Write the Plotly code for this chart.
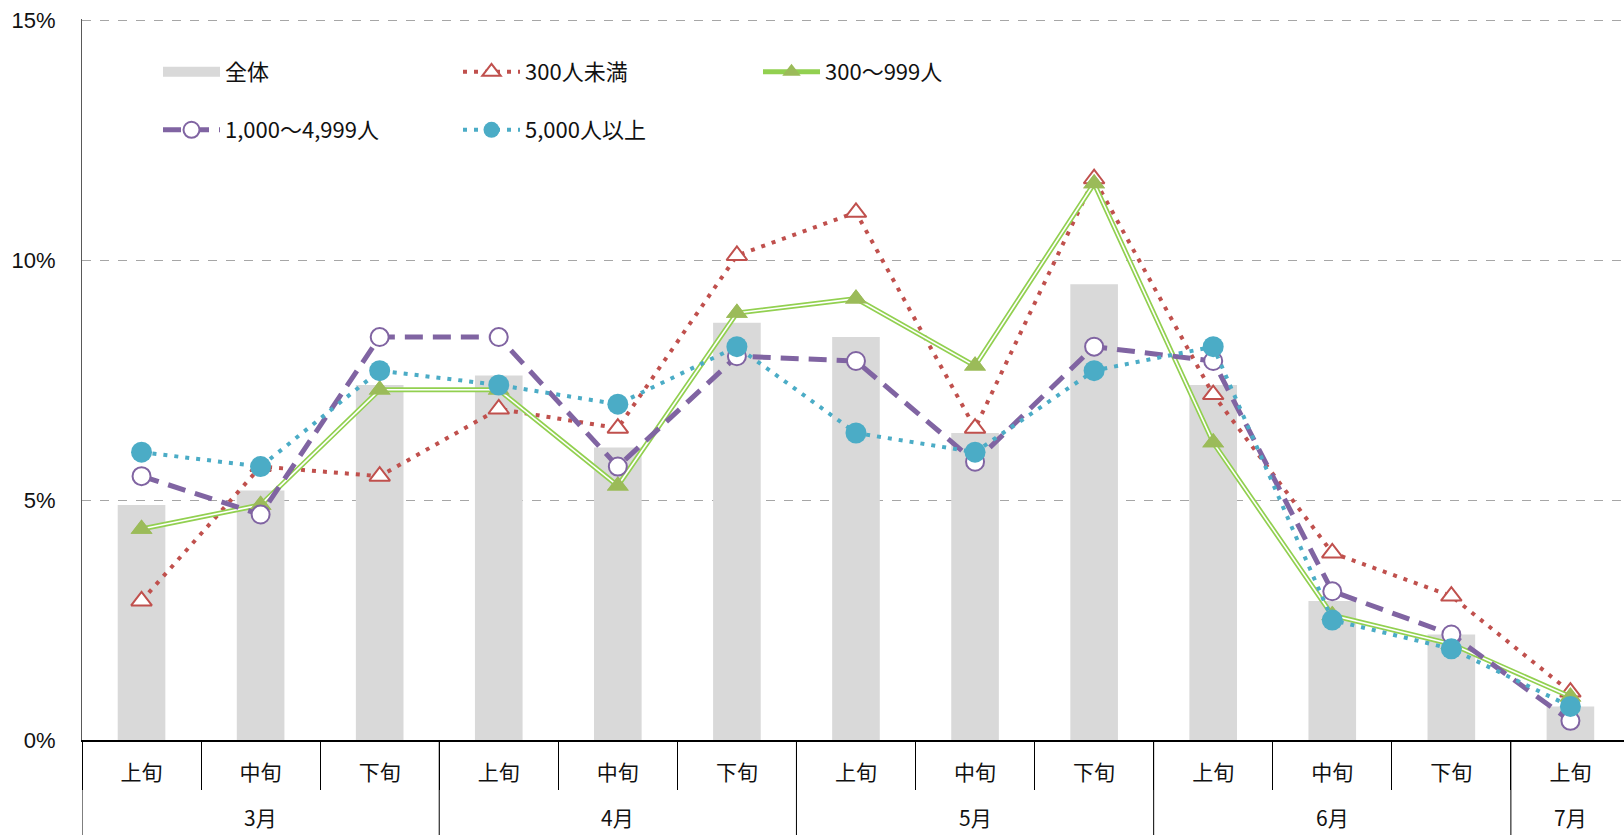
import plotly.graph_objects as go

months = ["3月", "3月", "3月", "4月", "4月", "4月", "5月", "5月", "5月", "6月", "6月", "6月", "7月"]
periods = ["上旬", "中旬", "下旬", "上旬", "中旬", "下旬", "上旬", "中旬", "下旬", "上旬", "中旬", "下旬", "上旬"]

total = [4.9, 5.2, 7.4, 7.6, 6.1, 8.7, 8.4, 6.4, 9.5, 7.4, 2.9, 2.2, 0.7]
under300 = [2.9, 5.7, 5.5, 6.9, 6.5, 10.1, 11.0, 6.5, 11.7, 7.2, 3.9, 3.0, 1.0]
s300_999 = [4.4, 4.9, 7.3, 7.3, 5.3, 8.9, 9.2, 7.8, 11.6, 6.2, 2.6, 2.0, 0.9]
s1000_4999 = [5.5, 4.7, 8.4, 8.4, 5.7, 8.0, 7.9, 5.8, 8.2, 7.9, 3.1, 2.2, 0.4]
s5000 = [6.0, 5.7, 7.7, 7.4, 7.0, 8.2, 6.4, 6.0, 7.7, 8.2, 2.5, 1.9, 0.7]

names = ["全体", "300人未満", "300～999人", "1,000～4,999人", "5,000人以上"]
y_ticks = [0, 5, 10, 15]
y_tick_text = ["0%", "5%", "10%", "15%"]

C_BAR = "#d9d9d9"
C_RED = "#c0504d"
C_GREEN_L = "#92d050"
C_GREEN_M = "#9bbb59"
C_PURPLE = "#8064a2"
C_CYAN = "#4bacc6"

FONT = "Noto Sans CJK JP"
NUMFONT = "Liberation Sans, Arial, sans-serif"

idx = list(range(len(periods)))

fig = go.Figure()

fig.add_trace(go.Bar(x=idx, y=total, width=0.4, marker=dict(color=C_BAR, line=dict(width=0)),
                     showlegend=False, name=names[0]))
# legend proxy for bars
fig.add_trace(go.Scatter(x=[None], y=[None], mode="lines", name=names[0],
                         line=dict(color=C_BAR, width=11), legend="legend"))

fig.add_trace(go.Scatter(x=idx, y=under300, mode="lines+markers", name=names[1], legend="legend",
                         line=dict(color=C_RED, width=4, dash="4px,7px"),
                         marker=dict(symbol="triangle-up", size=18, color="white",
                                     line=dict(color=C_RED, width=2))))

fig.add_trace(go.Scatter(x=idx, y=s300_999, mode="lines+markers", name=names[2], legend="legend",
                         line=dict(color=C_GREEN_L, width=5),
                         marker=dict(symbol="triangle-up", size=19, color=C_GREEN_M,
                                     line=dict(width=0))))
fig.add_trace(go.Scatter(x=idx, y=s300_999, mode="lines", showlegend=False,
                         line=dict(color="white", width=1.6), hoverinfo="skip"))
fig.add_trace(go.Scatter(x=idx, y=s300_999, mode="markers", showlegend=False,
                         marker=dict(symbol="triangle-up", size=19, color=C_GREEN_M,
                                     line=dict(width=0)), hoverinfo="skip"))

fig.add_trace(go.Scatter(x=idx, y=s1000_4999, mode="lines+markers", name=names[3], legend="legend2",
                         line=dict(color=C_PURPLE, width=5, dash="18px,10px"),
                         marker=dict(symbol="circle", size=18, color="white",
                                     line=dict(color=C_PURPLE, width=2))))

fig.add_trace(go.Scatter(x=idx, y=s5000, mode="lines+markers", name=names[4], legend="legend2",
                         line=dict(color=C_CYAN, width=4, dash="4px,7px"),
                         marker=dict(symbol="circle", size=21, color=C_CYAN,
                                     line=dict(width=0))))

W, H = 1624, 835
L, R, T, B = 82, 0, 19, 95
pw = W - L - R
ph = H - T - B
YMAX = 15.03

def px_x(p):
    return (p - L) / pw

def px_y(p):
    return (H - B - p) / ph

# month group boundaries and centres derived from the months list
boundaries = [-0.5]
groups = []
start = 0
for i in range(1, len(months) + 1):
    if i == len(months) or months[i] != months[i - 1]:
        groups.append((months[start], (start + i - 1) / 2))
        boundaries.append(i - 0.5)
        start = i

shapes = []
for b in boundaries:
    shapes.append(dict(type="line", xref="x", yref="paper", x0=b, x1=b, y0=0, y1=-0.2,
                       line=dict(color="#000", width=1)))

annotations = []
for m, c in groups:
    annotations.append(dict(x=c, xref="x", y=px_y(817), yref="paper", text=m, showarrow=False,
                            xanchor="center", yanchor="middle",
                            font=dict(family=FONT, size=21, color="#111")))

legend_common = dict(orientation="h", xanchor="left", yanchor="middle",
                     font=dict(family=FONT, size=22, color="#111"),
                     bgcolor="rgba(0,0,0,0)", entrywidth=228, entrywidthmode="pixels",
                     itemwidth=57, tracegroupgap=0)

fig.update_layout(
    width=W, height=H,
    margin=dict(l=L, r=R, t=T, b=B),
    paper_bgcolor="white", plot_bgcolor="white",
    font=dict(family=FONT, size=21, color="#111"),
    barmode="overlay",
    legend=dict(x=px_x(158), y=px_y(72), **legend_common),
    legend2=dict(x=px_x(158), y=px_y(130), **legend_common),
    shapes=shapes,
    annotations=annotations,
    xaxis=dict(
        range=[-0.5, 12.45],
        tickmode="array", tickvals=idx, ticktext=periods,
        ticks="", ticklabelstandoff=13,
        minor=dict(tickmode="array", tickvals=[i - 0.5 for i in range(len(periods) + 1)],
                   ticks="outside", ticklen=48, tickwidth=1, tickcolor="#000", showgrid=False),
        showline=True, linecolor="#000", linewidth=1.5,
        showgrid=False, zeroline=False,
        tickfont=dict(family=FONT, size=21, color="#111"),
    ),
    yaxis=dict(
        range=[0, YMAX],
        tickvals=y_ticks, ticktext=y_tick_text,
        showgrid=True, gridcolor="#a6a6a6", griddash="dash", gridwidth=1,
        showline=True, linecolor="#595959", linewidth=1,
        ticks="", ticklabelstandoff=21,
        zeroline=False,
        tickfont=dict(family=NUMFONT, size=22, color="#111"),
    ),
)

fig.write_html("out.html", config={"displayModeBar": False},
               post_script="document.body.style.margin='0';document.body.style.overflow='hidden';")
